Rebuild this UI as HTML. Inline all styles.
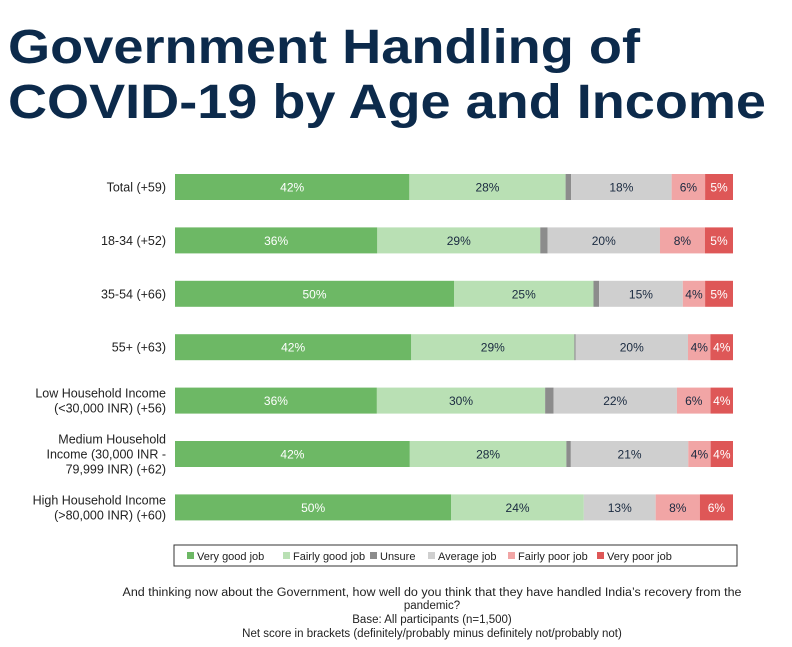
<!DOCTYPE html>
<html><head><meta charset="utf-8">
<style>
body{margin:0;background:#fff;width:792px;height:647px;overflow:hidden;font-family:"Liberation Sans",Arial,sans-serif}
svg{display:block}
</style></head>
<body>
<svg id="chart" width="792" height="647">
<text x="8" y="63" font-size="48" font-weight="bold" fill="#0c2a4b" textLength="632" lengthAdjust="spacingAndGlyphs">Government Handling of</text>
<text x="8" y="118" font-size="48" font-weight="bold" fill="#0c2a4b" textLength="758" lengthAdjust="spacingAndGlyphs">COVID-19 by Age and Income</text>
<g id="bars"></g>
<rect x="174" y="545" width="563" height="21" fill="#fff" stroke="#333" stroke-width="1"/>
<g id="legend"></g>
<g font-size="11.5" fill="#222" text-anchor="middle">
<text x="432" y="596" textLength="619" lengthAdjust="spacingAndGlyphs">And thinking now about the Government, how well do you think that they have handled India’s recovery from the</text>
<text x="432" y="609">pandemic?</text>
<text x="432" y="623">Base: All participants (n=1,500)</text>
<text x="432" y="637">Net score in brackets (definitely/probably minus definitely not/probably not)</text>
</g>
</svg>
<script>
const categories=[["Total (+59)"],["18-34 (+52)"],["35-54 (+66)"],["55+ (+63)"],["Low Household Income","(<30,000 INR) (+56)"],["Medium Household","Income (30,000 INR -","79,999 INR) (+62)"],["High Household Income","(>80,000 INR) (+60)"]];
const seriesNames=["Very good job","Fairly good job","Unsure","Average job","Fairly poor job","Very poor job"];
const veryGood=[42,36,50,42,36,42,50];
const fairlyGood=[28,29,25,29,30,28,24];
const unsure=[1,1.3,1,0.2,1.5,0.8,0];
const average=[18,20,15,20,22,21,13];
const fairlyPoor=[6,8,4,4,6,4,8];
const veryPoor=[5,5,5,4,4,4,6];
const colors=["#6db865","#b9e0b4","#8c8c8c","#cfcfcf","#f1a5a5","#de5757"];
const textColors=["#fff","#1a2a40",null,"#1a2a40","#1a2a40","#fff"];
const series=[veryGood,fairlyGood,unsure,average,fairlyPoor,veryPoor];
const NS="http://www.w3.org/2000/svg";
const x0=175,x1=733,y0=187,dy=53.4,bh=26;
const rowY=i=>y0+i*dy;
const g=document.getElementById('bars');
categories.forEach((lines,i)=>{
  const tot=series.reduce((s,a)=>s+a[i],0);
  const xs=v=>v/tot*(x1-x0);
  let x=x0;const cy=rowY(i);
  series.forEach((arr,k)=>{
    const w=xs(arr[i]);
    const r=document.createElementNS(NS,'rect');
    r.setAttribute('x',x);r.setAttribute('y',cy-bh/2);r.setAttribute('width',w);r.setAttribute('height',bh);r.setAttribute('fill',colors[k]);
    
    
    g.appendChild(r);
    if(textColors[k]&&arr[i]>=2){
      const t=document.createElementNS(NS,'text');
      t.setAttribute('x',x+w/2);t.setAttribute('y',cy+4.5);t.setAttribute('text-anchor','middle');t.setAttribute('font-size','12');t.setAttribute('fill',textColors[k]);
      t.textContent=Math.round(arr[i])+'%';
      
      
      g.appendChild(t);
    }
    x+=w;
  });
  const n=lines.length;
  lines.forEach((ln,j)=>{
    const t=document.createElementNS(NS,'text');
    t.setAttribute('x',166);t.setAttribute('y',cy+4.5+(j-(n-1)/2)*15);t.setAttribute('text-anchor','end');t.setAttribute('font-size','12.5');t.setAttribute('fill','#222');
    t.textContent=ln;
    
    
    g.appendChild(t);
  });
});
const lg=document.getElementById('legend');
const lx=[187,283,370,428,508,597];
seriesNames.forEach((nm,k)=>{
  const r=document.createElementNS(NS,'rect');
  r.setAttribute('x',lx[k]);r.setAttribute('y',552);r.setAttribute('width',7);r.setAttribute('height',7);r.setAttribute('fill',colors[k]);
  
  
  lg.appendChild(r);
  const t=document.createElementNS(NS,'text');
  t.setAttribute('x',lx[k]+10);t.setAttribute('y',560);t.setAttribute('font-size','11');t.setAttribute('fill','#222');
  t.textContent=nm;
  
  
  lg.appendChild(t);
});
</script>
</body></html>
